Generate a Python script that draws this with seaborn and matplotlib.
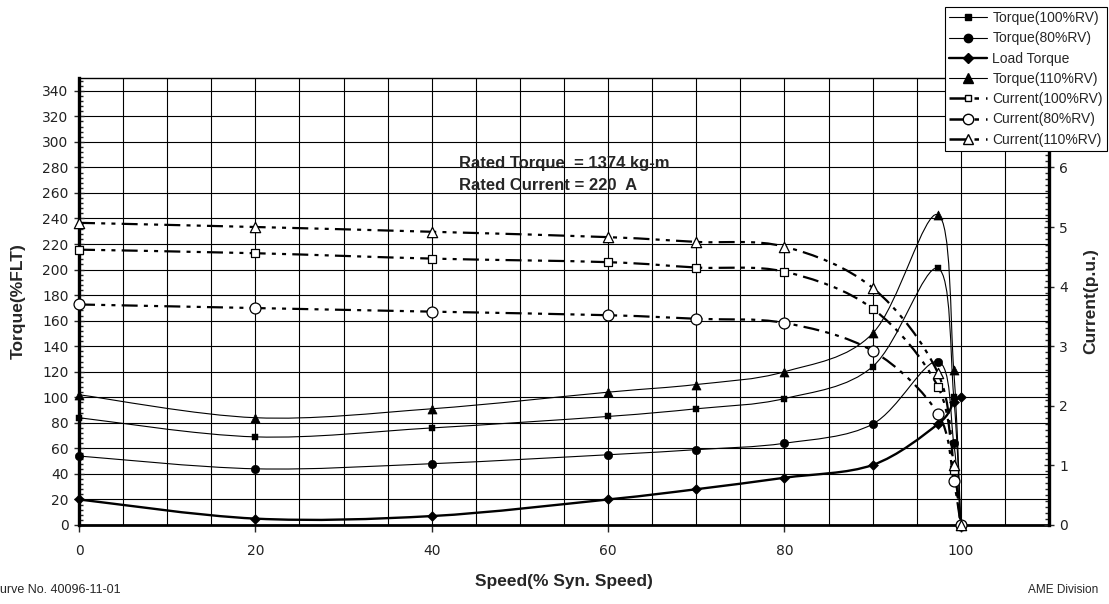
import numpy as np
import seaborn as sns
import matplotlib.pyplot as plt
from matplotlib.path import Path
from matplotlib.patches import PathPatch
from matplotlib.lines import Line2D
from matplotlib.ticker import MultipleLocator

# speed points (% of synchronous speed)
speed = [0, 20, 40, 60, 70, 80, 90, 97.4, 99.2, 100]

# torque curves (%FLT)
torque_100 = [84, 69, 76, 85, 91, 99, 124, 201, 100, 0]
torque_80 = [54, 44, 48, 55, 59, 64, 79, 128, 64, 0]
torque_110 = [102, 84, 91, 104, 110, 120, 150, 243, 121, 0]
load_torque = [20, 5, 7, 20, 28, 37, 47, 79, 96, 100]

# current curves (p.u.)
current_100 = [4.62, 4.56, 4.47, 4.41, 4.32, 4.25, 3.63, 2.32, 0.92, 0]
current_80 = [3.70, 3.64, 3.58, 3.52, 3.46, 3.39, 2.92, 1.87, 0.73, 0]
current_110 = [5.07, 5.00, 4.92, 4.83, 4.75, 4.67, 3.98, 2.55, 1.01, 0]

sns.set_style('white')
plt.rcParams['font.family'] = ['Liberation Sans', 'DejaVu Sans']


def smooth_line(ax, x, y, **kw):
    # excel-like smoothed line (catmull-rom as bezier)
    pts = np.column_stack([x, y]).astype(float)
    p = np.vstack([pts[0], pts, pts[-1]])
    verts = [pts[0]]
    codes = [Path.MOVETO]
    for i in range(1, len(p) - 2):
        c1 = p[i] + (p[i + 1] - p[i - 1]) / 6
        c2 = p[i + 1] - (p[i + 2] - p[i]) / 6
        verts += [c1, c2, p[i + 1]]
        codes += [Path.CURVE4] * 3
    ax.add_patch(PathPatch(Path(verts, codes), fill=False, edgecolor='black', **kw))


fig = plt.figure(figsize=(11.09, 6.04), dpi=100)
ax = fig.add_axes([79 / 1109, 1 - 525 / 604, 970 / 1109, 447 / 604])
ax2 = ax.twinx()

cur_dash = (0, (7.2, 2.8, 1.8, 2.8, 1.8, 2.8))

# torque side
smooth_line(ax, speed, torque_100, lw=0.8, zorder=3)
smooth_line(ax, speed, torque_80, lw=0.8, zorder=3)
smooth_line(ax, speed, torque_110, lw=0.8, zorder=3)
smooth_line(ax, speed, load_torque, lw=1.7, zorder=3)
sns.scatterplot(x=speed, y=torque_100, marker='s', s=14, color='black', edgecolor='black', ax=ax, clip_on=False, zorder=5, legend=False)
sns.scatterplot(x=speed, y=torque_80, marker='o', s=36, color='black', edgecolor='black', ax=ax, clip_on=False, zorder=5, legend=False)
sns.scatterplot(x=speed, y=load_torque, marker='D', s=26, color='black', edgecolor='black', ax=ax, clip_on=False, zorder=5, legend=False)
sns.scatterplot(x=speed, y=torque_110, marker='^', s=42, color='black', edgecolor='black', ax=ax, clip_on=False, zorder=5, legend=False)

# current side
for cur in [current_100, current_80, current_110]:
    smooth_line(ax2, speed, cur, lw=1.6, linestyle=cur_dash, zorder=3)
sns.scatterplot(x=speed, y=current_100, marker='s', s=26, color='white', edgecolor='black', linewidth=0.9, ax=ax2, clip_on=False, zorder=5, legend=False)
sns.scatterplot(x=speed, y=current_80, marker='o', s=62, color='white', edgecolor='black', linewidth=0.9, ax=ax2, clip_on=False, zorder=5, legend=False)
sns.scatterplot(x=speed, y=current_110, marker='^', s=55, color='white', edgecolor='black', linewidth=0.9, ax=ax2, clip_on=False, zorder=5, legend=False)

# axes / grid
ax.set_xlim(0, 110)
ax.set_ylim(0, 350)
ax2.set_ylim(0, 7.5)
ax.set_xticks(range(0, 101, 20))
ax.xaxis.set_minor_locator(MultipleLocator(5))
ax.set_yticks(range(0, 341, 20))
ax.yaxis.set_minor_locator(MultipleLocator(4))
ax2.set_yticks(range(0, 7))  # the 7 sits under the legend
ax2.yaxis.set_minor_locator(MultipleLocator(0.1))
ax.grid(which='both', axis='x', color='black', lw=0.8)
ax.grid(which='major', axis='y', color='black', lw=0.8)
ax.set_axisbelow(True)

ax.tick_params(axis='x', which='major', direction='out', length=5, width=1, pad=9,
               labelsize=10, labelcolor='#222222', bottom=True)
ax.tick_params(axis='x', which='minor', length=0)
ax.tick_params(axis='y', which='major', direction='inout', length=7, width=1, pad=4,
               labelsize=10, labelcolor='#222222', left=True)
ax.tick_params(axis='y', which='minor', direction='in', length=3, width=1, left=True)
ax2.tick_params(axis='y', which='major', direction='inout', length=7, width=1, pad=4,
                labelsize=10, labelcolor='#222222', right=True)
ax2.tick_params(axis='y', which='minor', direction='in', length=3, width=1, right=True)
for lab in ax.get_xticklabels() + ax.get_yticklabels() + ax2.get_yticklabels():
    lab.set_family('DejaVu Sans')

for side, lw in [('left', 2.4), ('bottom', 2.0), ('top', 1.0)]:
    ax.spines[side].set_linewidth(lw)
    ax.spines[side].set_color('black')
ax.spines['right'].set_visible(False)
for side in ['left', 'bottom', 'top']:
    ax2.spines[side].set_visible(False)
ax2.spines['right'].set_linewidth(2.4)
ax2.spines['right'].set_color('black')

ax.set_xlabel('Speed(% Syn. Speed)', fontsize=12.5, fontweight='bold')
ax.xaxis.set_label_coords(0.5, -0.11)
ax.set_ylabel('Torque(%FLT)', fontsize=12.5, fontweight='bold')
ax.yaxis.set_label_coords(-0.0546, 0.5)
ax2.set_ylabel('Current(p.u.)', fontsize=12.5, fontweight='bold')
ax2.yaxis.set_label_coords(1.035, 0.5)

ax.text(43.1, 283, 'Rated Torque  = 1374 kg-m', fontsize=12, fontweight='bold', va='center')
ax.text(43.1, 266, 'Rated Current = 220  A', fontsize=12, fontweight='bold', va='center')

fig.text(-9 / 1109, 1 - 590 / 604, 'Curve No. 40096-11-01', fontsize=9, va='center')
fig.text(1098 / 1109, 1 - 590 / 604, 'AME Division', fontsize=8.5, va='center', ha='right')

handles = [
    Line2D([], [], color='black', lw=0.8, marker='s', ms=3.8),
    Line2D([], [], color='black', lw=0.8, marker='o', ms=6),
    Line2D([], [], color='black', lw=1.7, marker='D', ms=5),
    Line2D([], [], color='black', lw=0.8, marker='^', ms=6.5),
    Line2D([], [], color='black', lw=1.8, ls=cur_dash, marker='s', ms=5, mfc='white', mec='black'),
    Line2D([], [], color='black', lw=1.8, ls=cur_dash, marker='o', ms=7.5, mfc='white', mec='black'),
    Line2D([], [], color='black', lw=1.8, ls=cur_dash, marker='^', ms=7, mfc='white', mec='black'),
]
labels = ['Torque(100%RV)', 'Torque(80%RV)', 'Load Torque', 'Torque(110%RV)',
          'Current(100%RV)', 'Current(80%RV)', 'Current(110%RV)']
leg = fig.legend(handles, labels, loc='upper right', bbox_to_anchor=(1107 / 1109, 1 - 7 / 604),
                 frameon=True, fancybox=False, edgecolor='black', framealpha=1, fontsize=10,
                 handlelength=2.7, handletextpad=0.4, labelspacing=0.45, borderpad=0.3,
                 borderaxespad=0)
leg.get_frame().set_linewidth(0.8)
leg.set_zorder(10)

fig.savefig('out.png', dpi=100)
